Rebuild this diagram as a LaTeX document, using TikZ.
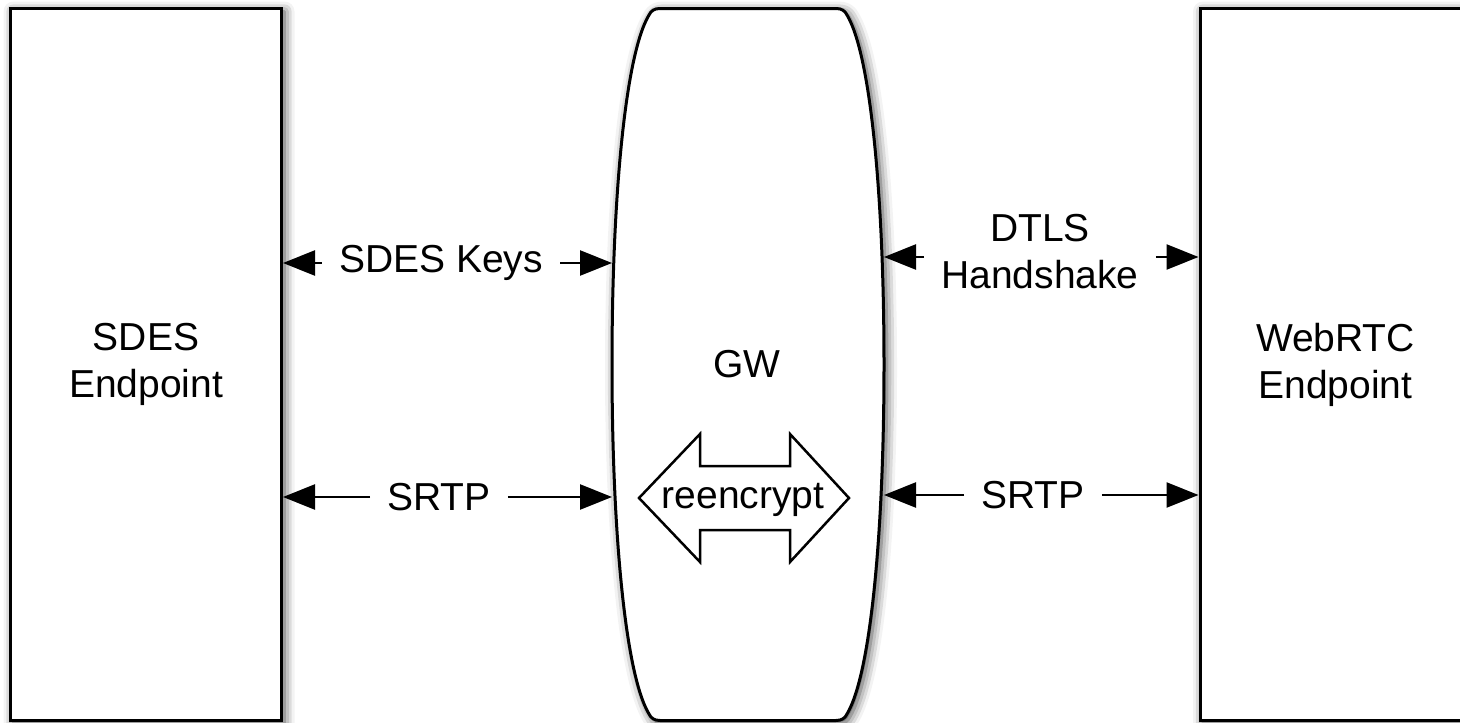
\documentclass[tikz,border=0pt]{standalone}
\usepackage{fontspec}
\setmainfont{Liberation Sans}
\usetikzlibrary{arrows.meta,shadows.blur}

\begin{document}
\begin{tikzpicture}[x=1pt, y=-1pt, >={Triangle[length=32pt,width=25pt,fill=black]}]
\tikzset{
  every node/.style={font=\fontsize{39}{47}\selectfont},
  softshadow/.style={blur shadow={shadow xshift=3pt, shadow yshift=-3pt,
    shadow blur radius=10pt, shadow opacity=75}},
  endpoint/.style={
    draw, rectangle, fill=white, line width=3pt,
    minimum width=271pt, minimum height=712pt,
    align=center, softshadow
  },
  gwshape/.style={draw, fill=white, line width=3pt, softshadow},
  dblarrow/.style={draw, fill=white, line width=2.5pt, line join=miter},
  lbl/.style={inner xsep=17pt, inner ysep=0pt, align=center},
  link/.style={->, draw=black, line width=2.5pt}
}
\useasboundingbox (0,0) rectangle (1460,723);

\node[endpoint] (sdes)   at (146,364.5)    {SDES\\Endpoint};
\node[endpoint] (webrtc) at (1335.5,364.5) {WebRTC\\Endpoint};

\draw[gwshape] (660,8.5) -- (836,8.5)
  .. controls (842,8.5) and (845,11) .. (847,15)
  .. controls (871,55) and (884,200) .. (884,364.5)
  .. controls (884,529) and (871,674) .. (847,714)
  .. controls (845,718) and (842,720.5) .. (836,720.5)
  -- (660,720.5)
  .. controls (654,720.5) and (651,718) .. (649,714)
  .. controls (625,674) and (612,529) .. (612,364.5)
  .. controls (612,200) and (625,55) .. (649,15)
  .. controls (651,11) and (654,8.5) .. (660,8.5) -- cycle;
\node (gw) at (747,364) {GW};

\draw[dblarrow] (639,498) -- (700,434) -- (700,466) -- (790,466) -- (790,434)
  -- (849,498) -- (790,562) -- (790,530) -- (700,530) -- (700,562) -- cycle;
\node (re) at (743,500) {reencrypt};

\coordinate (gwa) at (612,263);
\coordinate (gwb) at (612,497);
\coordinate (gwc) at (884,257);
\coordinate (gwd) at (884,495);

\node[lbl] (keys)  at (441,263)  {SDES Keys};
\node[lbl] (srtpa) at (439,497)  {SRTP};
\node[lbl] (dtls)  at (1040,252) {DTLS\\Handshake};
\node[lbl] (srtpb) at (1033,495) {SRTP};

\draw[link] (keys.west) -- (sdes.east |- keys.west);
\draw[link] (keys.east) -- (gwa);
\draw[link] (srtpa.west) -- (sdes.east |- srtpa.west);
\draw[link] (srtpa.east) -- (gwb);
\draw[link] ([yshift=-5pt]dtls.west) -- (gwc);
\draw[link] ([yshift=-5pt]dtls.east) -- (webrtc.west |- gwc);
\draw[link] (srtpb.west) -- (gwd);
\draw[link] (srtpb.east) -- (webrtc.west |- gwd);
\end{tikzpicture}
\end{document}
